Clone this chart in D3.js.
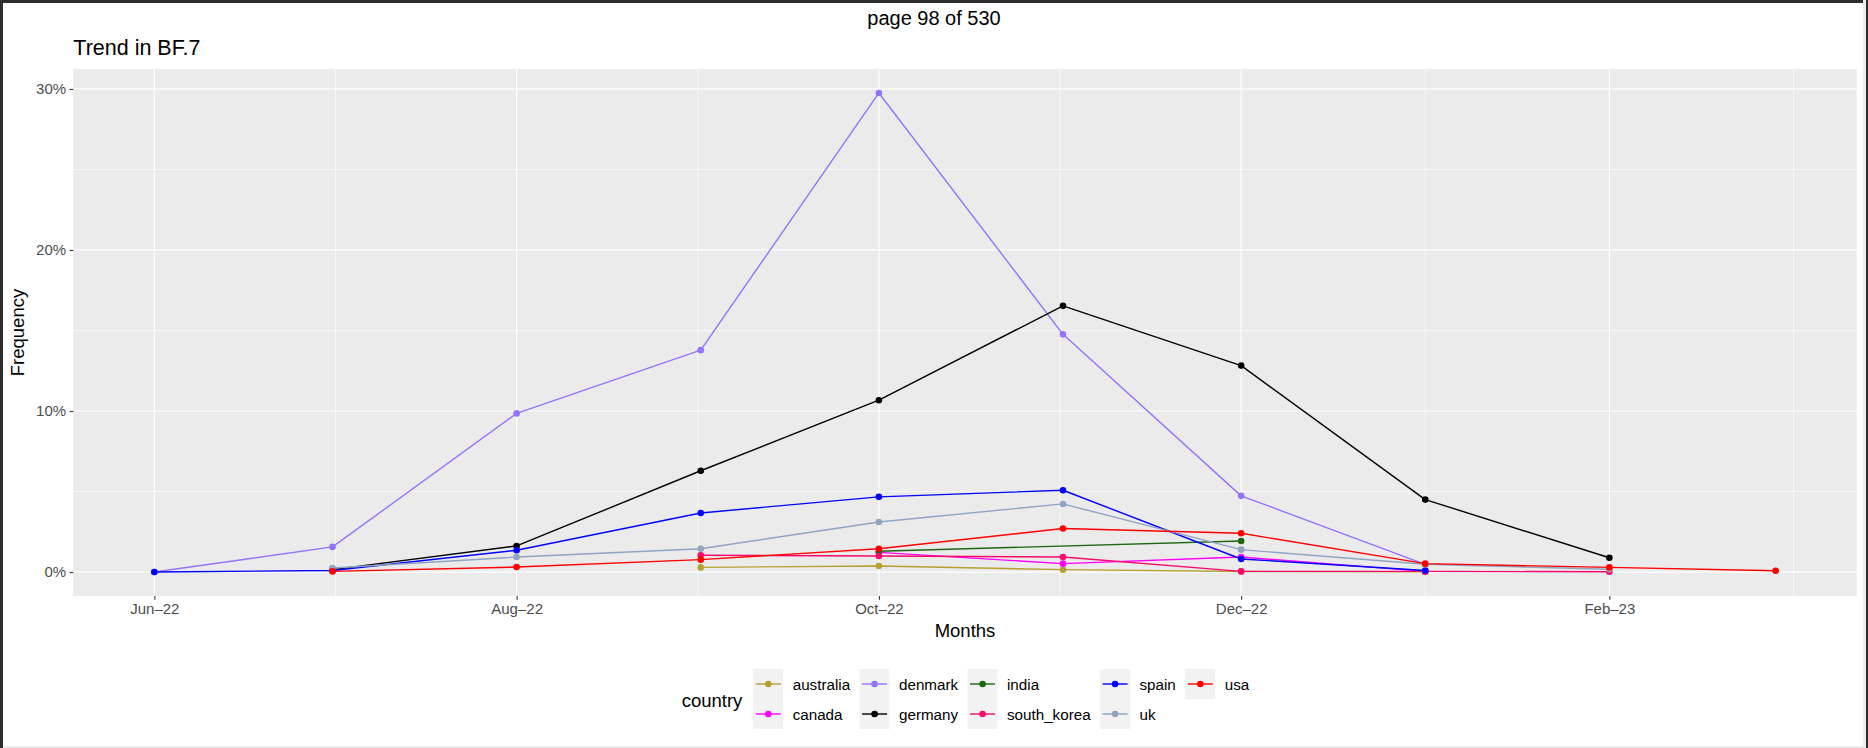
<!DOCTYPE html>
<html>
<head>
<meta charset="utf-8">
<script src="https://cdn.jsdelivr.net/npm/d3@7"></script>
<style>
  body { margin: 0; background: #fff; }
  svg { display: block; }
  text { font-family: "Liberation Sans", Arial, Helvetica, sans-serif; }
</style>
</head>
<body>
<svg id="chart" width="1868" height="748"></svg>
<script>
// ---- data (values in percent) ----
const months = ["2022-06-01","2022-07-01","2022-08-01","2022-09-01","2022-10-01",
                "2022-11-01","2022-12-01","2023-01-01","2023-02-01","2023-03-01"];
const countries = ["australia","canada","denmark","germany","india","south_korea","spain","uk","usa"];
const australia   = [null, null, null, 0.29, 0.38, 0.15, 0.03, 0.01, null, null];
const canada      = [null, null, null, null, 1.22, 0.52, 0.93, 0.04, null, null];
const denmark     = [0, 1.56, 9.85, 13.78, 29.75, 14.76, 4.73, 0.48, null, null];
const germany     = [null, 0.15, 1.62, 6.29, 10.67, 16.53, 12.82, 4.50, 0.89, null];
const india       = [null, null, null, null, 1.29, null, 1.93, null, null, null];
const south_korea = [null, null, null, 1.04, 1.00, 0.93, 0.04, 0.04, 0.02, null];
const spain       = [0, 0.10, 1.35, 3.67, 4.67, 5.08, 0.81, 0.10, null, null];
const uk          = [null, 0.25, 0.93, 1.45, 3.11, 4.23, 1.39, 0.48, 0.17, null];
const usa         = [null, 0.04, 0.31, 0.77, 1.45, 2.70, 2.41, 0.52, 0.29, 0.08];
const xTickDates  = ["2022-06-01","2022-08-01","2022-10-01","2022-12-01","2023-02-01"];
const xTickLabels = ["Jun–22","Aug–22","Oct–22","Dec–22","Feb–23"];
const yTicks      = [0, 10, 20, 30];
const yTickLabels = ["0%","10%","20%","30%"];
const colors = {
  australia: "#B5A132", canada: "#FF00FF", denmark: "#9673FF", germany: "#000000",
  india: "#1E6612", south_korea: "#F70A6B", spain: "#0000FF", uk: "#91A4C0", usa: "#FF0000"
};
const seriesValues = {australia, canada, denmark, germany, india, south_korea, spain, uk, usa};

// ---- layout ----
const svg = d3.select("#chart");
const W = 1868, H = 748;
const P = {left: 73.3, right: 1856.7, top: 69, bottom: 596};
const parse = d3.utcParse("%Y-%m-%d");
const dates = months.map(parse);

const series = countries.map(c => ({
  name: c,
  pts: dates.map((d, i) => ({date: d, v: seriesValues[c][i]})).filter(p => p.v !== null)
}));

const allV = series.flatMap(s => s.pts.map(p => p.v));
const vMin = d3.min(allV), vMax = d3.max(allV);
const vPad = (vMax - vMin) * 0.05;
const y = d3.scaleLinear().domain([vMin - vPad, vMax + vPad]).range([P.bottom, P.top]);

const t0 = d3.min(dates), t1 = d3.max(dates);
const tPad = (t1 - t0) * 0.05;
const x = d3.scaleUtc().domain([new Date(+t0 - tPad), new Date(+t1 + tPad)]).range([P.left, P.right]);

// background + window border
svg.append("rect").attr("width", W).attr("height", H).attr("fill", "#fff");

// panel
svg.append("rect").attr("x", P.left).attr("y", P.top)
  .attr("width", P.right - P.left).attr("height", P.bottom - P.top).attr("fill", "#EBEBEB");

// minor gridlines
const xMaj = xTickDates.map(parse);
const xMinor = [];
for (let i = 0; i < xMaj.length - 1; i++) xMinor.push(new Date((+xMaj[i] + +xMaj[i+1]) / 2));
xMinor.push(new Date(+xMaj[xMaj.length-1] + (xMaj[xMaj.length-1] - xMaj[xMaj.length-2]) / 2));
xMinor.unshift(new Date(+xMaj[0] - (xMaj[1] - xMaj[0]) / 2));
const [dx0, dx1] = x.domain();
const g = svg.append("g");
g.selectAll(".xminor").data(xMinor.filter(d => d >= dx0 && d <= dx1)).join("line")
  .attr("x1", d => x(d)).attr("x2", d => x(d)).attr("y1", P.top).attr("y2", P.bottom)
  .attr("stroke", "#fff").attr("stroke-width", 0.6);
const yMinor = [];
for (let i = 0; i < yTicks.length - 1; i++) yMinor.push((yTicks[i] + yTicks[i+1]) / 2);
g.selectAll(".yminor").data(yMinor).join("line")
  .attr("x1", P.left).attr("x2", P.right).attr("y1", d => y(d)).attr("y2", d => y(d))
  .attr("stroke", "#fff").attr("stroke-width", 0.6);
// major gridlines
g.selectAll(".xmaj").data(xMaj).join("line")
  .attr("x1", d => x(d)).attr("x2", d => x(d)).attr("y1", P.top).attr("y2", P.bottom)
  .attr("stroke", "#fff").attr("stroke-width", 1.2);
g.selectAll(".ymaj").data(yTicks).join("line")
  .attr("x1", P.left).attr("x2", P.right).attr("y1", d => y(d)).attr("y2", d => y(d))
  .attr("stroke", "#fff").attr("stroke-width", 1.2);

// axes
const xAxis = d3.axisBottom(x).tickValues(xMaj)
  .tickFormat((d, i) => xTickLabels[i]).tickSize(3.7).tickPadding(3.5);
const xg = svg.append("g").attr("transform", `translate(0,${P.bottom})`).call(xAxis);
xg.select(".domain").remove();
xg.selectAll(".tick line").attr("stroke", "#333").attr("stroke-width", 1.1);
xg.selectAll(".tick text").attr("fill", "#4D4D4D").attr("font-size", 15)
  .attr("font-family", '"Liberation Sans", Arial, sans-serif');

const yAxis = d3.axisLeft(y).tickValues(yTicks)
  .tickFormat((d, i) => yTickLabels[i]).tickSize(3.7).tickPadding(3.5);
const yg = svg.append("g").attr("transform", `translate(${P.left},0)`).call(yAxis);
yg.select(".domain").remove();
yg.selectAll(".tick line").attr("stroke", "#333").attr("stroke-width", 1.1);
yg.selectAll(".tick text").attr("fill", "#4D4D4D").attr("font-size", 15)
  .attr("font-family", '"Liberation Sans", Arial, sans-serif');

// lines then points
const line = d3.line().x(p => x(p.date)).y(p => y(p.v));
const clip = svg.append("defs").append("clipPath").attr("id", "pc").append("rect")
  .attr("x", P.left).attr("y", P.top).attr("width", P.right - P.left).attr("height", P.bottom - P.top);
const plot = svg.append("g").attr("clip-path", "url(#pc)");
plot.selectAll(".ln").data(series).join("path")
  .attr("d", s => line(s.pts)).attr("fill", "none")
  .attr("stroke", s => colors[s.name]).attr("stroke-width", 1.4).attr("stroke-linejoin", "round");
series.forEach(s => {
  plot.selectAll(null).data(s.pts).join("circle")
    .attr("cx", p => x(p.date)).attr("cy", p => y(p.v)).attr("r", 3.3)
    .attr("fill", colors[s.name]);
});

// titles
svg.append("text").attr("x", 934).attr("y", 25).attr("text-anchor", "middle")
  .attr("font-size", 20).attr("fill", "#000").text("page 98 of 530");
svg.append("text").attr("x", P.left).attr("y", 55)
  .attr("font-size", 21.5).attr("fill", "#000").text("Trend in BF.7");
svg.append("text").attr("x", (P.left + P.right) / 2).attr("y", 637).attr("text-anchor", "middle")
  .attr("font-size", 18.5).attr("fill", "#000").text("Months");
svg.append("text").attr("transform", `translate(24,${(P.top + P.bottom) / 2}) rotate(-90)`)
  .attr("text-anchor", "middle").attr("font-size", 18.5).attr("fill", "#000").text("Frequency");

// legend
const lg = svg.append("g");
lg.append("text").attr("x", 681.7).attr("y", 707).attr("font-size", 18.5).attr("fill", "#000").text("country");
const keyW = 30, keyH = 30, rowTop = 669;
let colX = 753.3;
const nCols = Math.ceil(countries.length / 2);
for (let c = 0; c < nCols; c++) {
  const items = countries.slice(c * 2, c * 2 + 2);
  let maxW = 0;
  items.forEach((name, r) => {
    const ky = rowTop + r * keyH;
    lg.append("rect").attr("x", colX).attr("y", ky).attr("width", keyW).attr("height", keyH).attr("fill", "#F2F2F2");
    lg.append("line").attr("x1", colX + 2.5).attr("x2", colX + keyW - 2.5)
      .attr("y1", ky + keyH / 2).attr("y2", ky + keyH / 2)
      .attr("stroke", colors[name]).attr("stroke-width", 1.4);
    lg.append("circle").attr("cx", colX + keyW / 2).attr("cy", ky + keyH / 2).attr("r", 3.3).attr("fill", colors[name]);
    const t = lg.append("text").attr("x", colX + keyW + 9.4).attr("y", ky + keyH / 2 + 5.5)
      .attr("font-size", 15.2).attr("fill", "#000").text(name);
    maxW = Math.max(maxW, t.node().getComputedTextLength());
  });
  colX = colX + keyW + 9.4 + maxW + 9.5;
}

// window border
svg.append("rect").attr("x", 0).attr("y", 0).attr("width", W).attr("height", 3).attr("fill", "#2E2E2E");
svg.append("rect").attr("x", 0).attr("y", 0).attr("width", 3).attr("height", H).attr("fill", "#2E2E2E");
svg.append("rect").attr("x", W - 5).attr("y", 0).attr("width", 3).attr("height", H).attr("fill", "#EDEDED");
svg.append("rect").attr("x", W - 2).attr("y", 0).attr("width", 2).attr("height", H).attr("fill", "#2E2E2E");
svg.append("rect").attr("x", 3).attr("y", H - 2).attr("width", W - 5).attr("height", 2).attr("fill", "#EDEDED");
</script>
</body>
</html>
